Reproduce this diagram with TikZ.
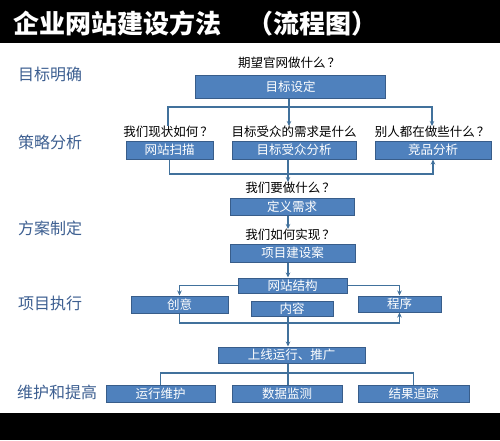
\documentclass[tikz,border=0pt]{standalone}
\usepackage{fontspec}
\setmainfont{Noto Sans CJK SC}
\usepackage{tikz}
\usetikzlibrary{arrows.meta}

\definecolor{boxfill}{HTML}{4F81BD}
\definecolor{boxline}{HTML}{385D8A}
\definecolor{flowline}{HTML}{41719C}
\definecolor{stagecol}{HTML}{3D5F91}

\newcommand{\qmark}{\kern2pt？}

\tikzset{
  flowbox/.style={draw=boxline,line width=1pt,fill=boxfill,text=white,inner sep=0pt,
    font=\fontsize{12.5}{13}\selectfont},
  question/.style={inner sep=0pt,font=\fontsize{12.5}{13}\selectfont},
  stage/.style={anchor=west,inner sep=0pt,text=stagecol,font=\fontsize{16}{17}\selectfont},
  flow/.style={draw=flowline,line width=1.3pt},
  tip/.style={-{Stealth[length=5pt,width=4.5pt]}}
}

\begin{document}
\begin{tikzpicture}[x=1pt,y=-1pt]
  \useasboundingbox (0,0) rectangle (500,440);
  \fill[white] (0,0) rectangle (500,440);
  % title bar and foot bar
  \fill[black] (0,0) rectangle (500,43);
  \fill[black] (0,413) rectangle (500,440);
  \node[anchor=west,inner sep=0pt,text=white,font=\fontsize{26}{28}\selectfont\bfseries] (title) at (13,23){企业网站建设方法　（流程图）};

  % stages on the left
  \node[stage] (s1) at (18,74){目标明确};
  \node[stage] (s2) at (18,142){策略分析};
  \node[stage] (s3) at (18,228){方案制定};
  \node[stage] (s4) at (18,303){项目执行};
  \node[stage] (s5) at (17,392){维护和提高};

  % questions
  \node[question] (q1) at (289,63){期望官网做什么\qmark};
  \node[question] (q2a) at (168,132){我们现状如何\qmark};
  \node[question] (q2b) at (294,132){目标受众的需求是什么};
  \node[question] (q2c) at (432,132){别人都在做些什么\qmark};
  \node[question] (q3) at (290,188){我们要做什么\qmark};
  \node[question] (q4) at (290,235){我们如何实现\qmark};

  % boxes
  \node[flowbox,minimum width=190pt,minimum height=23pt] (goal) at (290.5,86.5){目标设定};
  \node[flowbox,minimum width=87pt,minimum height=18pt] (scan) at (169.5,150){网站扫描};
  \node[flowbox,minimum width=124pt,minimum height=18pt] (aud) at (294,150){目标受众分析};
  \node[flowbox,minimum width=116pt,minimum height=18pt] (comp) at (433,150){竞品分析};
  \node[flowbox,minimum width=124pt,minimum height=17pt] (need) at (292,206.5){定义需求};
  \node[flowbox,minimum width=125pt,minimum height=18pt] (plan) at (292.5,253){项目建设案};
  \node[flowbox,minimum width=109pt,minimum height=15pt] (struct) at (292.5,285.5){网站结构};
  \node[flowbox,minimum width=97pt,minimum height=17pt] (idea) at (179.5,304.5){创意};
  \node[flowbox,minimum width=82pt,minimum height=15pt] (content) at (292,308.5){内容};
  \node[flowbox,minimum width=83pt,minimum height=16pt] (prog) at (399.5,304){程序};
  \node[flowbox,minimum width=147pt,minimum height=16pt] (launch) at (291.5,355){上线运行、推广};
  \node[flowbox,minimum width=109pt,minimum height=17pt] (ops) at (160.5,393.5){运行维护};
  \node[flowbox,minimum width=110pt,minimum height=17pt] (data) at (287,393.5){数据监测};
  \node[flowbox,minimum width=111pt,minimum height=17pt] (track) at (413.5,393.5){结果追踪};

  % junctions
  \coordinate (split1) at (289,107);
  \coordinate (join1) at (288,174);
  \coordinate (join2) at (288,323);
  \coordinate (split2) at (288,373);

  % connectors
  \draw[flow] (goal.south -| split1) -- (split1);
  \draw[flow] (split1) -| (q2a.north);
  \draw[flow,tip] (split1) -- (split1 |- q2b.north);
  \draw[flow,tip] (split1) -| (q2c.north);
  \draw[flow] (scan) |- (join1);
  \draw[flow,tip] (join1) -| (comp);
  \draw[flow,tip] (aud.south -| join1) -- (join1 |- q3.north);
  \draw[flow,tip] (need.south -| join1) -- (join1 |- q4.north);
  \draw[flow,tip] (plan.south -| join1) -- (join1 |- struct.north);
  \draw[flow,tip] (struct.west) -| (idea);
  \draw[flow,tip] (struct.east) -| (prog);
  \draw[flow] (idea) |- (join2);
  \draw[flow,tip] (join2) -| (prog);
  \draw[flow,tip] (content.south -| join2) -- (join2 |- launch.north);
  \draw[flow] (launch.south -| split2) -- (split2);
  \draw[flow] (split2) -| (ops);
  \draw[flow] (split2) -- (split2 |- data.north);
  \draw[flow] (split2) -| (track);
\end{tikzpicture}
\end{document}
